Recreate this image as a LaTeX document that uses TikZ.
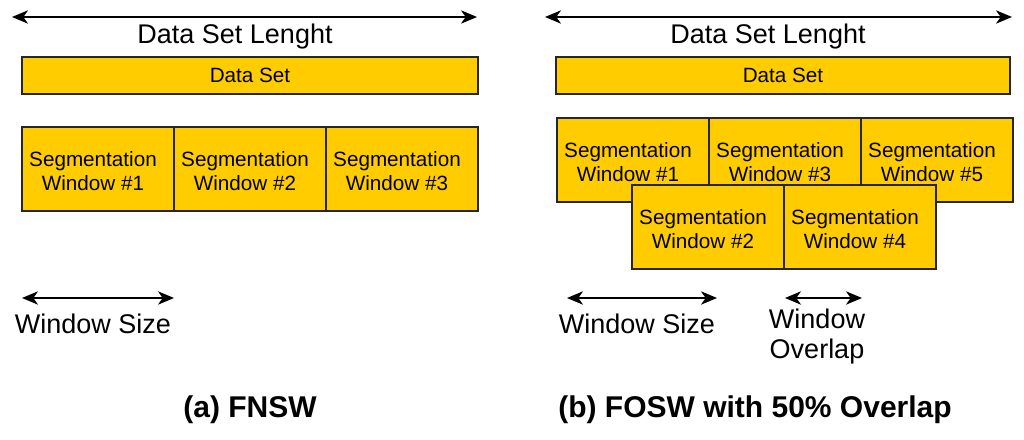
\documentclass[tikz,border=0pt]{standalone}
\usepackage{fontspec}
\setmainfont{Liberation Sans}
\usetikzlibrary{arrows.meta}
\definecolor{segyellow}{HTML}{FFCC00}
\newcommand{\segtext}[1]{\hspace*{-7.5pt}\raisebox{0pt}[\dimexpr\height+6.4pt\relax][\depth]{\begin{tabular}{@{}c@{}}Segmentation\\Window \##1\end{tabular}}}
\tikzset{
  box/.style={draw=black!85, line width=1.1pt, fill=segyellow, rectangle, inner sep=0pt, align=center,
    font=\fontsize{15.5pt}{18pt}\selectfont},
  seg/.style={box, minimum width=114pt, minimum height=63pt},
  dset/.style={box, minimum height=27.75pt},
  dim/.style={line width=1.1pt, {Stealth[length=12pt,width=10pt,inset=3.5pt]}-{Stealth[length=12pt,width=10pt,inset=3.5pt]}},
  biglabel/.style={font=\fontsize{20.25pt}{22.5pt}\selectfont, align=center, inner sep=0pt},
  title/.style={font=\bfseries\fontsize{22.5pt}{26pt}\selectfont, inner sep=0pt}
}
\begin{document}
\begin{tikzpicture}[x=0.75pt, y=-0.75pt]
\useasboundingbox (0,0) rectangle (1024,439);
% ---------- (a) FNSW ----------
\coordinate (aL1) at (12,17);
\coordinate (aL2) at (477,17);
\draw[dim] (aL1) -- (aL2);
\node[biglabel] (alen) at (235,37) {Data Set Lenght};
\node[dset, minimum width=342pt] (ads) at (250,75.5) {Data Set};
\node[seg] (aw1) at (98,169) {\segtext{1}};
\node[seg] (aw2) at (250,169) {\segtext{2}};
\node[seg] (aw3) at (402,169) {\segtext{3}};
\coordinate (aS1) at (22,298);
\coordinate (aS2) at (174,298);
\draw[dim] (aS1) -- (aS2);
\node[biglabel] (asize) at (93,324) {Window Size};
\node[title] (atitle) at (250,410) {(a) FNSW};
% ---------- (b) FOSW ----------
\coordinate (bL1) at (545,17);
\coordinate (bL2) at (1012,17);
\draw[dim] (bL1) -- (bL2);
\node[biglabel] (blen) at (768,37) {Data Set Lenght};
\node[dset, minimum width=340.5pt] (bds) at (783,75.5) {Data Set};
\node[seg] (bw1) at (633,160) {\segtext{1}};
\node[seg] (bw3) at (785,160) {\segtext{3}};
\node[seg] (bw5) at (937,160) {\segtext{5}};
\node[seg] (bw2) at (708,227) {\segtext{2}};
\node[seg] (bw4) at (860,227) {\segtext{4}};
\coordinate (bS1) at (567,298);
\coordinate (bS2) at (717,298);
\draw[dim] (bS1) -- (bS2);
\node[biglabel] (bsize) at (637,324) {Window Size};
\coordinate (bO1) at (785,298);
\coordinate (bO2) at (862,298);
\draw[dim] (bO1) -- (bO2);
\node[biglabel] (bover) at (817,337) {Window\\Overlap};
\node[title] (btitle) at (755,410) {(b) FOSW with 50\% Overlap};
\end{tikzpicture}
\end{document}
